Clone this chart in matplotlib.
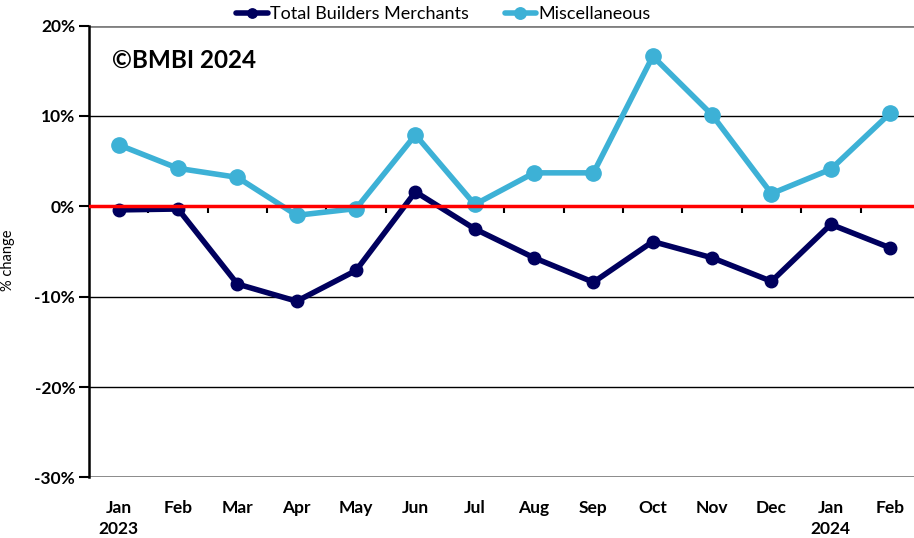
import matplotlib
matplotlib.use("Agg")
import matplotlib.pyplot as plt
from matplotlib.ticker import FixedLocator, PercentFormatter

months = ["Jan\n2023", "Feb", "Mar", "Apr", "May", "Jun", "Jul", "Aug", "Sep",
          "Oct", "Nov", "Dec", "Jan\n2024", "Feb"]
total_bm = [-0.4, -0.3, -8.6, -10.5, -7.1, 1.6, -2.5, -5.7, -8.4, -3.9, -5.7, -8.3, -2.0, -4.6]
misc = [6.8, 4.2, 3.2, -1.0, -0.25, 7.9, 0.2, 3.7, 3.7, 16.6, 10.1, 1.4, 4.1, 10.3]
yticks = [20, 10, 0, -10, -20, -30]

plt.rcParams['font.family'] = ['Lato', 'DejaVu Sans']
plt.rcParams['axes.unicode_minus'] = False

fig = plt.figure(figsize=(9.14, 5.38), dpi=100)
ax = fig.add_axes([0.0974, 0.1125, 0.909, 0.8401])

x = list(range(len(months)))
navy = '#00005E'
light = '#3DB1D6'

ax.set_xlim(-0.5, len(months) - 0.5)
ax.set_ylim(-30, 20)

# gridlines
for v in yticks:
    if v in (20, -30):
        ax.axhline(v, color='#808080', lw=2, zorder=1)
    elif v != 0:
        ax.axhline(v, color='#000000', lw=1, zorder=1)

l1, = ax.plot(x, total_bm, color=navy, lw=4, marker='o', ms=9, zorder=3,
              label='Total Builders Merchants', solid_capstyle='round')
l2, = ax.plot(x, misc, color=light, lw=4, marker='o', ms=11, zorder=3,
              label='Miscellaneous', solid_capstyle='round')
ax.axhline(0, color='#FF0000', lw=2.5, zorder=4)

# spines
for s in ('top', 'right'):
    ax.spines[s].set_visible(False)
ax.spines['left'].set_linewidth(1.8)
ax.spines['bottom'].set_position(('data', 0))
ax.spines['bottom'].set_color('#202020')
ax.spines['bottom'].set_linewidth(1)
ax.spines['bottom'].set_zorder(2)

ax.set_yticks(yticks)
ax.yaxis.set_major_formatter(PercentFormatter(decimals=0))
ax.tick_params(axis='y', direction='out', length=7, width=1.5, pad=3, labelsize=12.5)
for t in ax.get_yticklabels():
    t.set_fontweight('bold')

ax.set_xticks(x)
ax.xaxis.set_minor_locator(FixedLocator([i + 0.5 for i in x[:-1]]))
ax.tick_params(axis='x', which='major', length=0, labelbottom=False)
ax.tick_params(axis='x', which='minor', direction='out', length=5, width=1.5)

sec = ax.secondary_xaxis(0.0)
sec.set_xticks(x)
sec.set_xticklabels(months, fontweight='bold', fontsize=12.5, linespacing=1.4)
sec.tick_params(length=0, pad=16)
sec.spines['bottom'].set_visible(False)

ax.set_ylabel('% change', fontsize=10.5)
ax.yaxis.set_label_coords(-0.089, 0.48)

ax.text(0.028, 0.924, '©BMBI 2024', transform=ax.transAxes, fontsize=17.5,
        fontweight='bold', va='center', ha='left')

fig.legend(handles=[l1, l2], loc='center', bbox_to_anchor=(0.485, 0.974),
           ncol=2, frameon=False, fontsize=13, handlelength=1.75,
           handletextpad=0.1, columnspacing=2.0, markerscale=0.75,
           borderpad=0)

fig.savefig('out.png', dpi=100)
